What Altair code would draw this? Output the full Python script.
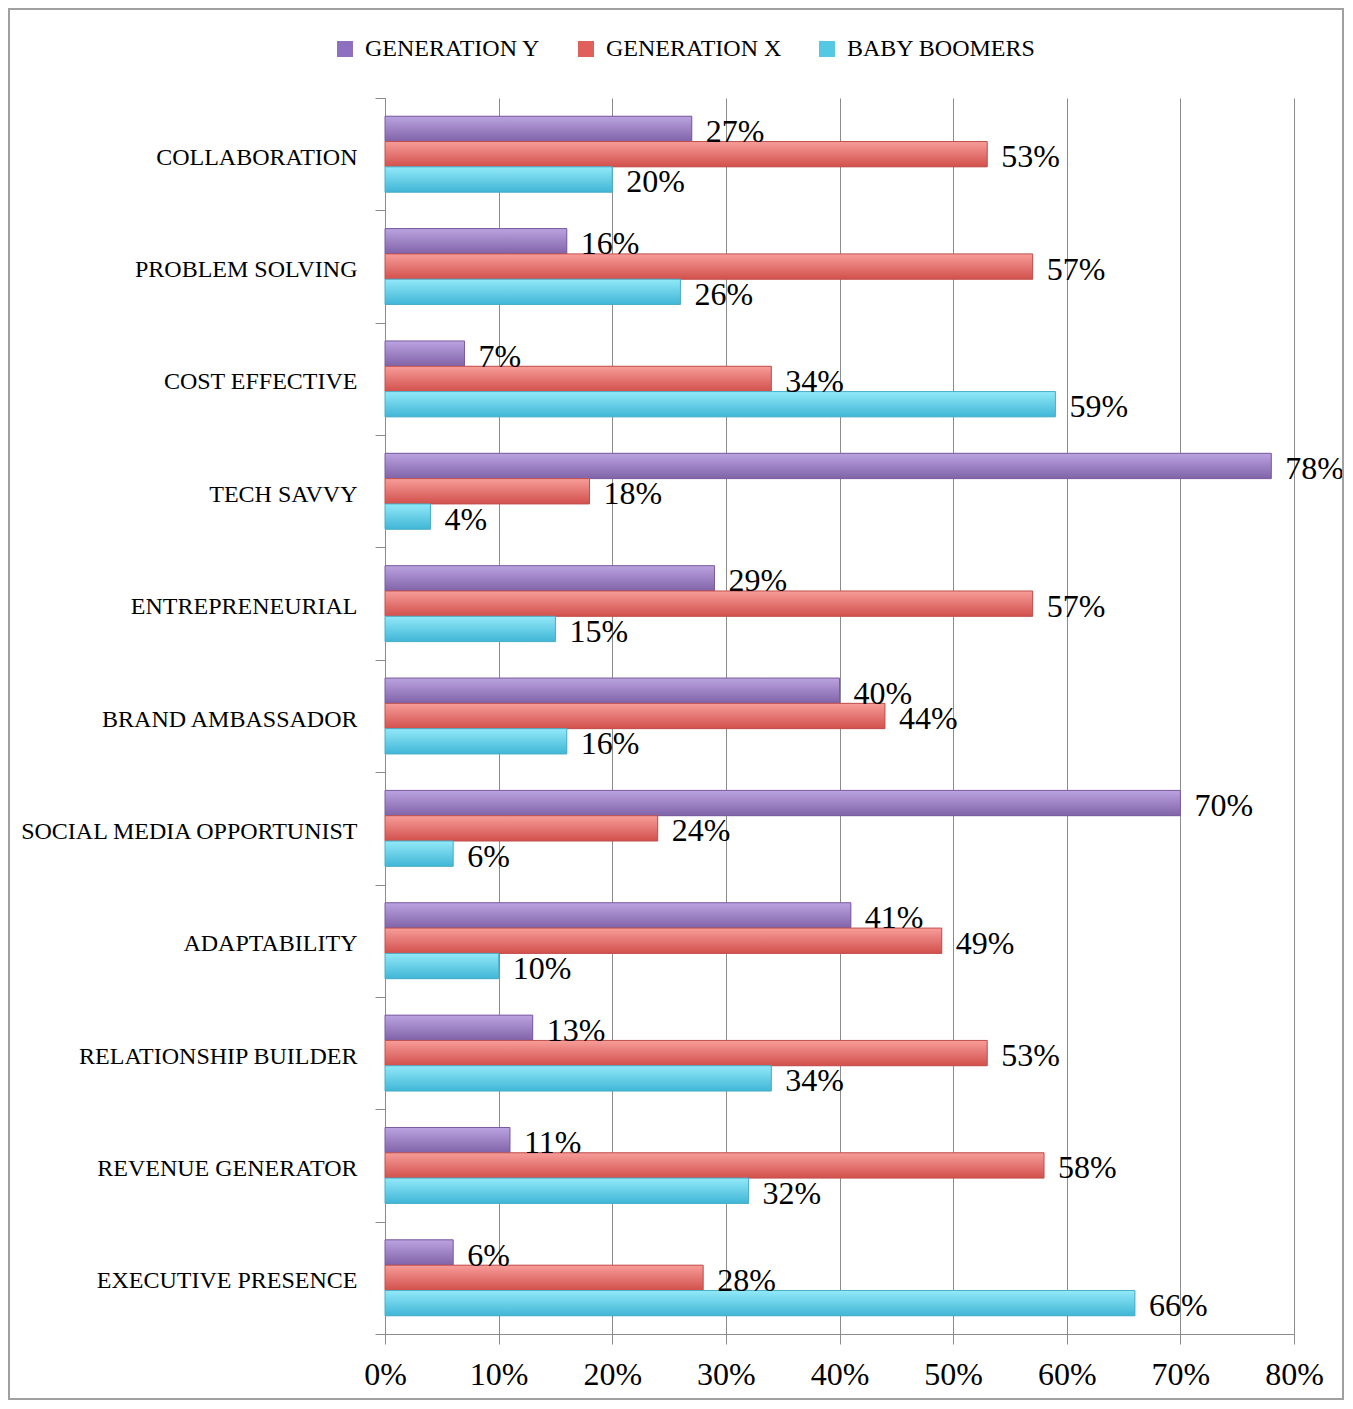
import altair as alt
import pandas as pd

categories = ["Collaboration", "Problem Solving", "Cost Effective", "Tech Savvy",
              "Entrepreneurial", "Brand Ambassador", "Social Media Opportunist",
              "Adaptability", "Relationship Builder", "Revenue Generator",
              "Executive Presence"]
series = ["Generation Y", "Generation X", "Baby Boomers"]
gen_y = [27, 16, 7, 78, 29, 40, 70, 41, 13, 11, 6]
gen_x = [53, 57, 34, 18, 57, 44, 24, 49, 53, 58, 28]
boomers = [20, 26, 59, 4, 15, 16, 6, 10, 34, 32, 66]
x_ticks = [0, 10, 20, 30, 40, 50, 60, 70, 80]

rows = []
for s, vals in zip(series, [gen_y, gen_x, boomers]):
    for c, v in zip(categories, vals):
        rows.append({"category": c, "series": s, "value": v, "label": f"{v}%"})
df = pd.DataFrame(rows)

FONT = "Liberation Serif"
GRID = "#8c8c8c"

solid = ["#8f6fbf", "#e0605c", "#55c8e3"]
grads = [
    ("#bba3e0", "#8063a8", "#7a5c9e"),
    ("#f79d99", "#d2504c", "#c0504d"),
    ("#92e9f8", "#40b6d6", "#4aaec8"),
]

y_enc = alt.Y("category:N", sort=categories,
              scale=alt.Scale(domain=categories, paddingInner=0, paddingOuter=0),
              axis=alt.Axis(title=None, tickBand="extent", tickSize=10,
                            labelExpr="upper(datum.label)", labelFontSize=24,
                            labelPadding=18, labelOffset=3, labelColor="#000000",
                            labelLimit=0, domainColor=GRID, tickColor=GRID, grid=False))
yoff = alt.YOffset("series:N", sort=series,
                   scale=alt.Scale(domain=series, paddingInner=0, paddingOuter=0.72))
x_enc = alt.X("value:Q", scale=alt.Scale(domain=[0, 80], nice=False),
              axis=alt.Axis(title=None, values=x_ticks, labelExpr="datum.value + '%'",
                            tickSize=10, labelFontSize=32, labelPadding=15,
                            labelFlush=False, labelOverlap=False,
                            labelColor="#000000", domainColor=GRID, tickColor=GRID,
                            grid=True, gridColor=GRID, gridWidth=1))

base = alt.Chart(df).mark_bar().encode(
    x=x_enc, y=y_enc, yOffset=yoff,
    color=alt.Color("series:N", sort=series,
                    scale=alt.Scale(domain=series, range=solid),
                    legend=alt.Legend(title=None, orient="none", direction="horizontal",
                                      legendX=-52, legendY=-61, symbolType="square",
                                      symbolSize=256, labelFontSize=24, labelLimit=0,
                                      labelExpr="upper(datum.label)",
                                      labelFont=FONT, labelColor="#000000",
                                      gridAlign="all", columnPadding=20,
                                      labelOffset=8, symbolStrokeWidth=0)),
)

layers = [base]
for s, (top, bot, stroke) in zip(series, grads):
    g = alt.Gradient(gradient="linear", x1=0, x2=0, y1=0, y2=1,
                     stops=[alt.GradientStop(color=top, offset=0),
                            alt.GradientStop(color=bot, offset=1)])
    layers.append(
        alt.Chart(df).transform_filter(alt.datum.series == s)
        .mark_bar(color=g, stroke=stroke, strokeWidth=1)
        .encode(x=x_enc, y=y_enc, yOffset=yoff)
    )

text = alt.Chart(df).mark_text(align="left", baseline="middle", dx=14, dy=3,
                               font=FONT, fontSize=32, color="#000000").encode(
    x=x_enc, y=y_enc, yOffset=yoff, text="label:N")
layers.append(text)

border = alt.Chart(alt.Data(values=[{"a": 1}])).mark_rect(
    fill="transparent", stroke="#a0a0a0", strokeWidth=2, clip=False).encode(
    x=alt.value(-376), x2=alt.value(958), y=alt.value(-89), y2=alt.value(1301))
layers.append(border)

chart = alt.layer(*layers).properties(
    width=909, height=1236,
    autosize=alt.AutoSizeParams(type="none"),
    padding={"left": 377, "top": 90, "right": 51, "bottom": 66},
    background="white",
).configure_axis(labelFont=FONT).configure_view(stroke="transparent")

chart.save("out.html", embed_options={"renderer": "svg", "actions": False})
